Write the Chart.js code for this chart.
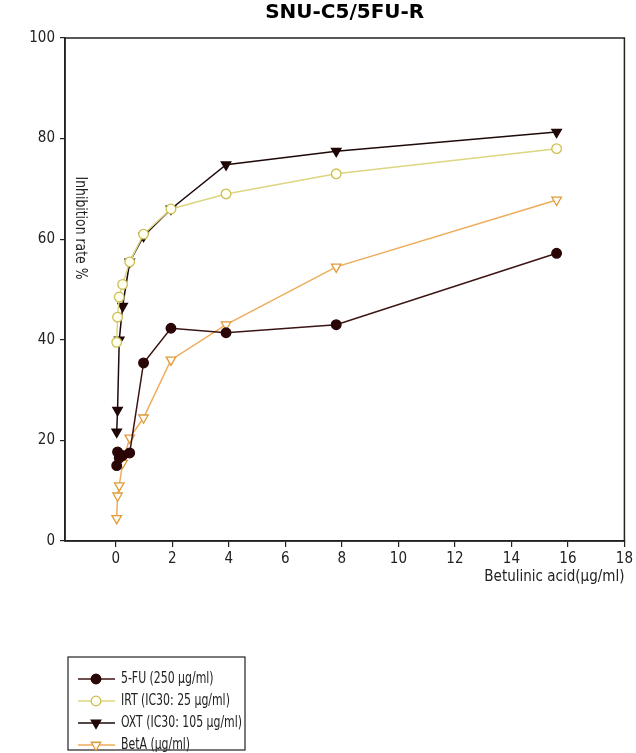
<!DOCTYPE html>
<html>
<head>
<meta charset="utf-8">
<script src="https://cdn.jsdelivr.net/npm/chart.js@4"></script>
<style>
  html, body { margin: 0; padding: 0; background: #fff; }
  #wrap { width: 636px; height: 753px; }
</style>
</head>
<body>
<div id="wrap"><canvas id="chart" width="636" height="753"></canvas></div>
<script>
const doses = [0.03, 0.06, 0.12, 0.24, 0.49, 0.98, 1.95, 3.9, 7.8, 15.6];
const fuValues = [15, 17.7, 16.5, 17, 17.5, 35.4, 42.3, 41.4, 43, 57.2];
const irtValues = [39.5, 44.5, 48.5, 51, 55.5, 61, 66, 69, 73, 78];
const oxtValues = [21.7, 26, 40, 46.7, 55.5, 60.6, 66, 74.8, 77.5, 81.3];
const betaValues = [4.5, 9, 11, 15.5, 20.5, 24.5, 36, 43, 54.5, 67.8];

const seriesLabels = ["5-FU (250 µg/ml)", "IRT (IC30: 25 µg/ml)", "OXT (IC30: 105 µg/ml)", "BetA (µg/ml)"];
const xTicks = [0, 2, 4, 6, 8, 10, 12, 14, 16, 18];
const yTicks = [0, 20, 40, 60, 80, 100];

const FONT = "'DejaVu Sans Condensed', 'Liberation Sans Narrow', 'Liberation Sans', Arial, sans-serif";
const INK = "#222";

const toPoints = (values) => doses.map((x, i) => ({ x, y: values[i] }));

const series = [
  { values: fuValues, line: "#3d1414", fill: "#2a0606", border: "#2a0606", style: "circle", rot: 0, r: 4.8 },
  { values: irtValues, line: "#dcd680", fill: "#fffff2", border: "#cdbf55", style: "circle", rot: 0, r: 4.8 },
  { values: oxtValues, line: "#1e0a0a", fill: "#1e0606", border: "#1e0606", style: "triangle", rot: 180, r: 5.5 },
  { values: betaValues, line: "#eeac5a", fill: "#fffdf5", border: "#e09a3a", style: "triangle", rot: 180, r: 5.5 },
];

const datasets = series.map((s, i) => ({
  label: seriesLabels[i],
  data: toPoints(s.values),
  borderColor: s.line,
  borderWidth: 1.5,
  backgroundColor: s.fill,
  pointBackgroundColor: s.fill,
  pointBorderColor: s.border,
  pointBorderWidth: 1.3,
  pointStyle: s.style,
  pointRotation: s.rot,
  pointRadius: s.r,
  tension: 0,
}));

// squeeze text horizontally so it fits a given width (reference uses a narrow face)
const narrowText = (ctx, text, x, y, squeeze) => {
  ctx.save();
  ctx.translate(x, y);
  ctx.scale(squeeze, 1);
  ctx.fillText(text, 0, 0);
  ctx.restore();
};

// frame, title, rotated y title and boxed legend
const decorations = {
  id: "decorations",
  afterDraw(chart) {
    const { ctx, chartArea } = chart;
    ctx.save();
    ctx.strokeStyle = INK;
    ctx.lineWidth = 1.5;
    ctx.strokeRect(chartArea.left, chartArea.top, chartArea.right - chartArea.left, chartArea.bottom - chartArea.top);

    ctx.fillStyle = "#000";
    ctx.font = "bold 20px 'DejaVu Sans', 'Liberation Sans', Arial, sans-serif";
    ctx.textAlign = "center";
    ctx.textBaseline = "middle";
    ctx.fillText("SNU-C5/5FU-R", (chartArea.left + chartArea.right) / 2, 13);

    ctx.save();
    ctx.translate(chartArea.left + 15, 228);
    ctx.rotate(Math.PI / 2);
    ctx.font = "15px " + FONT;
    ctx.fillStyle = INK;
    ctx.textAlign = "center";
    narrowText(ctx, "Inhibition rate %", 0, 0, 0.92);
    ctx.restore();

    const box = { x: 68, y: 657, w: 177, h: 93 };
    ctx.strokeStyle = INK;
    ctx.lineWidth = 1.2;
    ctx.strokeRect(box.x, box.y, box.w, box.h);
    ctx.font = "16px " + FONT;
    ctx.textAlign = "left";
    const widest = Math.max(...chart.data.datasets.map((ds) => ctx.measureText(ds.label).width));
    const squeeze = Math.min(1, 121 / widest);
    chart.data.datasets.forEach((ds, i) => {
      const y = 679 + i * 22;
      ctx.strokeStyle = ds.borderColor;
      ctx.lineWidth = 1.5;
      ctx.beginPath();
      ctx.moveTo(78, y);
      ctx.lineTo(115, y);
      ctx.stroke();
      ctx.fillStyle = ds.pointBackgroundColor;
      ctx.strokeStyle = ds.pointBorderColor;
      ctx.lineWidth = ds.pointBorderWidth;
      Chart.helpers.drawPoint(ctx, { pointStyle: ds.pointStyle, rotation: ds.pointRotation, radius: ds.pointRadius, borderWidth: ds.pointBorderWidth }, 96, y);
      ctx.fillStyle = INK;
      narrowText(ctx, ds.label, 121, y, squeeze);
    });
    ctx.restore();
  },
};

new Chart(document.getElementById("chart"), {
  type: "line",
  data: { datasets },
  plugins: [decorations],
  options: {
    responsive: false,
    animation: false,
    devicePixelRatio: 1,
    layout: { padding: { left: 0, top: 38, right: 9, bottom: 167 } },
    plugins: { legend: { display: false }, tooltip: { enabled: false }, title: { display: false } },
    scales: {
      x: {
        type: "linear",
        min: -1.8,
        max: 18,
        afterBuildTicks: (scale) => { scale.ticks = xTicks.map((value) => ({ value })); },
        afterFit: (scale) => { scale.height = 45; },
        grid: { drawOnChartArea: false, tickLength: 6, color: INK, lineWidth: 1.2 },
        border: { color: INK, width: 1.5 },
        ticks: { padding: 3, maxRotation: 0, color: INK, font: { family: FONT, size: 15 } },
        title: { display: true, text: "Betulinic acid(µg/ml)", align: "end", padding: 0, color: INK, font: { family: FONT, size: 15 } },
      },
      y: {
        min: 0,
        max: 100,
        afterBuildTicks: (scale) => { scale.ticks = yTicks.map((value) => ({ value })); },
        afterFit: (scale) => { scale.width = 65; },
        grid: { drawOnChartArea: false, tickLength: 5, color: INK, lineWidth: 1.2 },
        border: { color: INK, width: 1.5 },
        ticks: { padding: 5, color: INK, font: { family: FONT, size: 15 } },
      },
    },
  },
});
</script>
</body>
</html>
